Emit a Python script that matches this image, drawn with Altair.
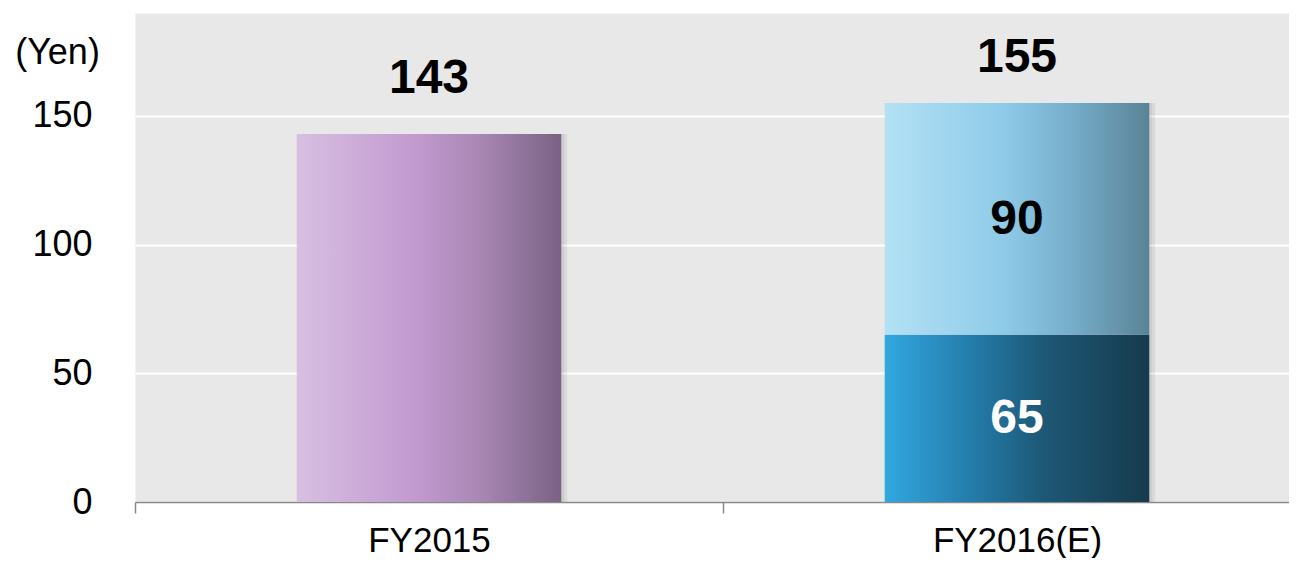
import altair as alt
import pandas as pd

categories = ["FY2015", "FY2016(E)"]
totals = [143, 155]
seg_category = ["FY2015", "FY2016(E)", "FY2016(E)"]
seg_name = ["fy2015", "lower", "upper"]
seg_value = [143, 65, 90]
y_ticks = [0, 50, 100, 150]

seg_df = pd.DataFrame({"cat": seg_category, "seg": seg_name, "value": seg_value})
seg_df["end"] = seg_df.groupby("cat")["value"].cumsum()
seg_df["start"] = seg_df["end"] - seg_df["value"]
seg_df["mid"] = (seg_df["start"] + seg_df["end"]) / 2
tot_df = pd.DataFrame({"cat": categories, "total": totals})

FONT = "Liberation Sans"
BAR_W = alt.RelativeBandSize(0.45)

xscale = alt.Scale(domain=categories, range=[0, 1176], paddingInner=0, paddingOuter=0)
yscale = alt.Scale(domain=[0, 190], nice=False, zero=True)

x_enc = alt.X("cat:N", scale=xscale, title=None,
              axis=alt.Axis(labelAngle=0, labelFontSize=35, labelFont=FONT, labelColor="#000",
                            labelPadding=10, tickBand="extent", tickSize=11, tickWidth=1.5,
                            tickColor="#888", domainColor="#888", domainWidth=1.5, grid=False))
y_axis = alt.Axis(values=y_ticks, labelFontSize=36, labelFont=FONT, labelColor="#000",
                  ticks=False, tickSize=0, domain=False, labelPadding=43,
                  gridColor="#ffffff", gridWidth=2,
                  title="(Yen)", titleAngle=0, titleFontSize=36, titleFont=FONT,
                  titleFontWeight="normal", titleColor="#000", titleAlign="center",
                  titleBaseline="alphabetic", titleX=-78, titleY=50)


def grad(stops):
    return alt.Gradient(gradient="linear", x1=0, x2=1, y1=0, y2=0,
                        stops=[alt.GradientStop(color=c, offset=o) for o, c in stops])


g_purple = grad([(0, "#d8bfe1"), (0.45, "#c29ad0"), (0.7, "#a886b3"), (1, "#7a6284")])
g_light = grad([(0, "#b4e1f4"), (0.45, "#8ecbe9"), (0.7, "#76aecb"), (1, "#5a8396")])
g_dark = grad([(0, "#31a8e0"), (0.35, "#2379a6"), (0.6, "#1d5876"), (1, "#173a4d")])

base_t = alt.Chart(tot_df)
base_s = alt.Chart(seg_df)

shadow1 = base_t.mark_bar(color="#000", opacity=0.06, xOffset=6, width=BAR_W).encode(
    x=x_enc, y=alt.Y("total:Q", scale=yscale, axis=y_axis), y2=alt.value(489))
shadow2 = base_t.mark_bar(color="#000", opacity=0.06, xOffset=3, width=BAR_W).encode(
    x=x_enc, y=alt.Y("total:Q", scale=yscale, axis=y_axis), y2=alt.value(489))


def seg_layer(name, g):
    return base_s.transform_filter(alt.datum.seg == name).mark_bar(color=g, width=BAR_W).encode(
        x=x_enc, y=alt.Y("start:Q", scale=yscale, axis=y_axis), y2="end:Q")


purple = seg_layer("fy2015", g_purple)
dark = seg_layer("lower", g_dark)
light = seg_layer("upper", g_light)


def total_text(cat, dy):
    return base_t.transform_filter(alt.datum.cat == cat).mark_text(
        font=FONT, fontSize=48, fontWeight="bold", color="#000", baseline="alphabetic", dy=dy
    ).encode(x=x_enc, y=alt.Y("total:Q", scale=yscale), text="total:Q")


t1 = total_text("FY2015", -41)
t2 = total_text("FY2016(E)", -31)

seg_text = base_s.transform_filter(alt.datum.seg != "fy2015").mark_text(
    font=FONT, fontSize=48, fontWeight="bold", baseline="middle", dy=1
).encode(
    x=x_enc,
    y=alt.Y("mid:Q", scale=yscale),
    text="value:Q",
    color=alt.Color("seg:N", scale=alt.Scale(domain=["upper", "lower"], range=["#000000", "#ffffff"]), legend=None),
)

chart = alt.layer(shadow1, shadow2, purple, dark, light, t1, t2, seg_text).properties(
    width=1154, height=489,
    autosize=alt.AutoSizeParams(type="none"),
    padding={"left": 127, "top": 5, "right": 0, "bottom": 56},
    background="#ffffff",
).configure_view(fill="#e8e8e8", stroke="transparent")

chart.save("out.html", embed_options={"renderer": "svg", "actions": False})
